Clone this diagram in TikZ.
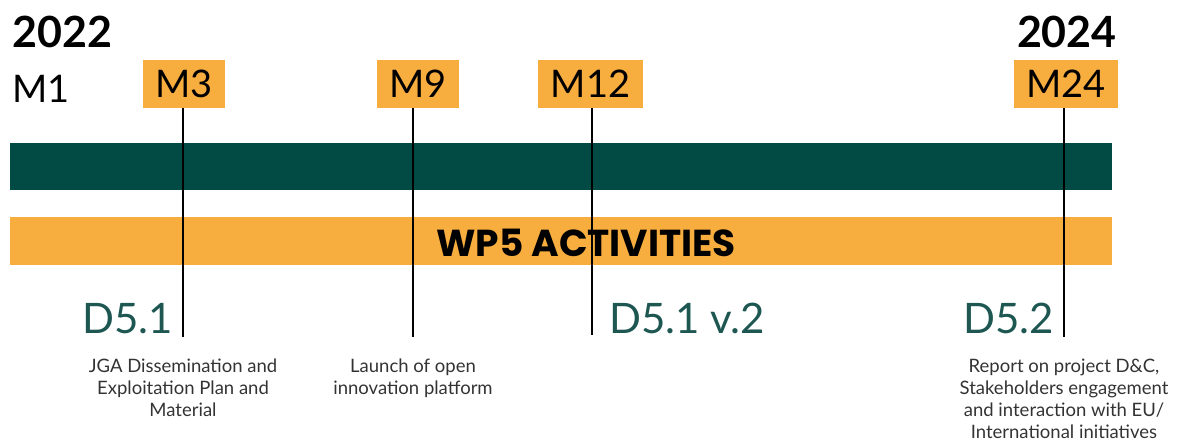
\documentclass[tikz,border=0pt]{standalone}
\usepackage{fontspec}
\setmainfont{Lato}
\newfontfamily\headfont{Poppins}
\definecolor{wporange}{HTML}{F8AD3F}
\definecolor{wpgreen}{HTML}{024A44}
\definecolor{wpteal}{HTML}{1E5752}
\definecolor{captxt}{HTML}{333333}
\begin{document}
\begin{tikzpicture}[x=1pt,y=-1pt,
  year/.style={inner sep=0pt,font=\fontsize{43}{44}\selectfont\bfseries},
  mbox/.style={fill=wporange,inner sep=0pt,minimum height=48pt,font=\fontsize{38}{40}\selectfont},
  deliv/.style={inner sep=0pt,text=wpteal,font=\fontsize{42}{44}\selectfont,anchor=base east},
  caption/.style={align=center,inner sep=0pt,anchor=north,text=captxt,font=\fontsize{18.5}{22}\selectfont},
  tick/.style={line width=2pt,black}]
\useasboundingbox (0,0) rectangle (1177,443);
% years
\node[year,anchor=base west] (y22) at (12,48) {2022};
\node[year,anchor=base east] (y24) at (1117,48) {2024};
% month labels
\node[inner sep=0pt,anchor=base west,font=\fontsize{38}{40}\selectfont] (m1) at (12,103) {M1};
\node[mbox,minimum width=82pt] (m3) at (184,84) {M3};
\node[mbox,minimum width=82pt] (m9) at (418,84) {M9};
\node[mbox,minimum width=105pt] (m12) at (590.5,84) {M12};
\node[mbox,minimum width=104pt] (m24) at (1066,84) {M24};
% bars
\fill[wpgreen] (10,143) rectangle (1112,190);
\node[fill=wporange,minimum width=1102pt,minimum height=48pt,inner sep=0pt] (bar) at (561,241) {};
\node[inner sep=0pt,font=\fontsize{37.5}{38}\selectfont\headfont\bfseries] (wp5) at (586,243) {WP5 ACTIVITIES};
% end coordinates
\coordinate (e3) at (183,337);
\coordinate (e9) at (413,337);
\coordinate (e12) at (592,335);
\coordinate (e24) at (1064,337);
% ticks
\draw[tick] (m3.south -| e3) -- (e3);
\draw[tick] (m9.south -| e9) -- (e9);
\draw[tick] (m12.south -| e12) -- (e12);
\draw[tick] (m24.south -| e24) -- (e24);
% deliverables
\node[deliv] (d51) at (173,334) {D5.1};
\node[deliv,anchor=base west] (d51b) at (609,334) {D5.1 v.2};
\node[deliv] (d52) at (1054,334) {D5.2};
% captions
\node[caption] (c1) at (183,359) {JGA Dissemination and\\Exploitation Plan and\\Material};
\node[caption] (c2) at (413,359) {Launch of open\\innovation platform};
\node[caption] (c3) at (1064,359) {Report on project D\&C,\\Stakeholders engagement\\and interaction with EU/\\International initiatives};
\end{tikzpicture}
\end{document}
